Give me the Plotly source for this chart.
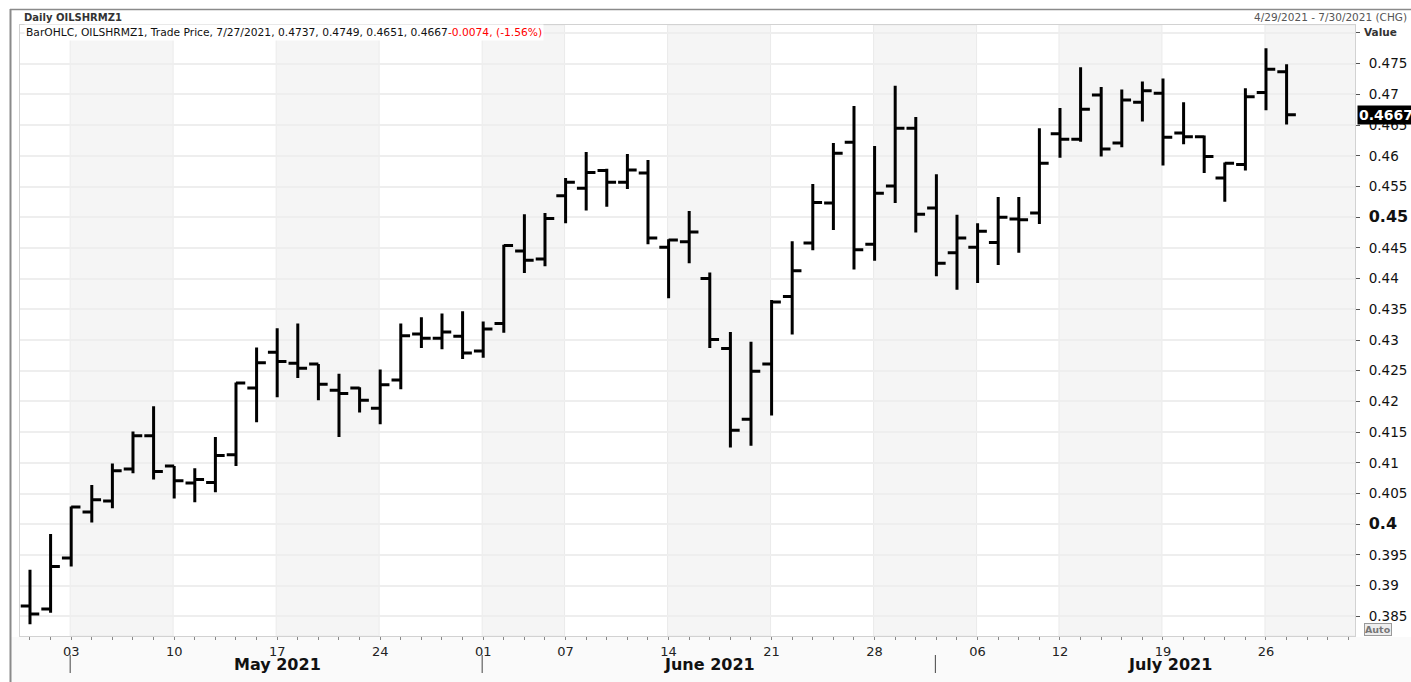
import datetime as dt
import plotly.graph_objects as go

# ---------------- data ----------------
dates = [
    "2021-04-29", "2021-04-30",
    "2021-05-03", "2021-05-04", "2021-05-05", "2021-05-06", "2021-05-07",
    "2021-05-10", "2021-05-11", "2021-05-12", "2021-05-13", "2021-05-14",
    "2021-05-17", "2021-05-18", "2021-05-19", "2021-05-20", "2021-05-21",
    "2021-05-24", "2021-05-25", "2021-05-26", "2021-05-27", "2021-05-28",
    "2021-06-01", "2021-06-02", "2021-06-03", "2021-06-04",
    "2021-06-07", "2021-06-08", "2021-06-09", "2021-06-10", "2021-06-11",
    "2021-06-14", "2021-06-15", "2021-06-16", "2021-06-17", "2021-06-18",
    "2021-06-21", "2021-06-22", "2021-06-23", "2021-06-24", "2021-06-25",
    "2021-06-28", "2021-06-29", "2021-06-30", "2021-07-01", "2021-07-02",
    "2021-07-06", "2021-07-07", "2021-07-08", "2021-07-09",
    "2021-07-12", "2021-07-13", "2021-07-14", "2021-07-15", "2021-07-16",
    "2021-07-19", "2021-07-20", "2021-07-21", "2021-07-22", "2021-07-23",
    "2021-07-26", "2021-07-27",
]
opens = [
    0.3867, 0.3862,
    0.3945, 0.4020, 0.4038, 0.4090, 0.4144,
    0.4095, 0.4067, 0.4068, 0.4113, 0.4222,
    0.4280, 0.4262, 0.4261, 0.4218, 0.4222,
    0.4189, 0.4235, 0.4310, 0.4303, 0.4306,
    0.4282, 0.4327, 0.4445, 0.4432,
    0.4535, 0.4547, 0.4576, 0.4557, 0.4572,
    0.4451, 0.4460, 0.4400, 0.4286, 0.4171,
    0.4261, 0.4371, 0.4458, 0.4523, 0.4622,
    0.4456, 0.4551, 0.4645, 0.4515, 0.4442,
    0.4451, 0.4459, 0.4497, 0.4507,
    0.4636, 0.4627, 0.4699, 0.4621, 0.4687,
    0.4702, 0.4637, 0.4631, 0.4564, 0.4586,
    0.4703, 0.4737,
]
highs = [
    0.3926, 0.3984,
    0.4029, 0.4064, 0.4099, 0.4151, 0.4192,
    0.4095, 0.4091, 0.4142, 0.4231, 0.4288,
    0.4319, 0.4327, 0.4261, 0.4245, 0.4223,
    0.4252, 0.4327, 0.4337, 0.4343, 0.4347,
    0.4330, 0.4455, 0.4505, 0.4507,
    0.4564, 0.4606, 0.4579, 0.4603, 0.4593,
    0.4464, 0.4510, 0.4410, 0.4313, 0.4297,
    0.4365, 0.4461, 0.4554, 0.4621, 0.4681,
    0.4616, 0.4714, 0.4663, 0.4570, 0.4504,
    0.4490, 0.4533, 0.4533, 0.4645,
    0.4678, 0.4744, 0.4712, 0.4708, 0.4721,
    0.4726, 0.4687, 0.4633, 0.4589, 0.4710,
    0.4775, 0.4749,
]
lows = [
    0.3837, 0.3856,
    0.3931, 0.4003, 0.4026, 0.4083, 0.4073,
    0.4042, 0.4036, 0.4052, 0.4095, 0.4166,
    0.4207, 0.4238, 0.4202, 0.4142, 0.4182,
    0.4163, 0.4220, 0.4287, 0.4285, 0.4269,
    0.4271, 0.4312, 0.4409, 0.4420,
    0.4490, 0.4511, 0.4517, 0.4546, 0.4456,
    0.4368, 0.4425, 0.4287, 0.4125, 0.4128,
    0.4177, 0.4309, 0.4446, 0.4479, 0.4415,
    0.4429, 0.4523, 0.4475, 0.4404, 0.4382,
    0.4393, 0.4422, 0.4442, 0.4489,
    0.4597, 0.4623, 0.4599, 0.4614, 0.4656,
    0.4584, 0.4619, 0.4572, 0.4525, 0.4576,
    0.4674, 0.4651,
]
closes = [
    0.3854, 0.3931,
    0.4028, 0.4040, 0.4087, 0.4144, 0.4086,
    0.4071, 0.4073, 0.4112, 0.4230, 0.4263,
    0.4265, 0.4254, 0.4228, 0.4213, 0.4202,
    0.4227, 0.4307, 0.4303, 0.4313, 0.4279,
    0.4318, 0.4454, 0.4430, 0.4498,
    0.4557, 0.4573, 0.4557, 0.4577, 0.4466,
    0.4463, 0.4476, 0.4301, 0.4153, 0.4249,
    0.4362, 0.4413, 0.4524, 0.4604, 0.4447,
    0.4539, 0.4645, 0.4505, 0.4425, 0.4466,
    0.4477, 0.4500, 0.4496, 0.4588,
    0.4627, 0.4676, 0.4611, 0.4691, 0.4706,
    0.4630, 0.4631, 0.4599, 0.4588, 0.4696,
    0.4741, 0.4667,
]
y_ticks = [0.385, 0.39, 0.395, 0.40, 0.405, 0.41, 0.415, 0.42, 0.425, 0.43,
           0.435, 0.44, 0.445, 0.45, 0.455, 0.46, 0.465, 0.47, 0.475, 0.48]
y_tick_labels = ["0.385", "0.39", "0.395", "0.4", "0.405", "0.41", "0.415", "0.42",
                 "0.425", "0.43", "0.435", "0.44", "0.445", "0.45", "0.455", "0.46",
                 "0.465", "0.47", "0.475", ""]
bold_labels = ["0.4", "0.45"]
month_names = ["May 2021", "June 2021", "July 2021"]
title_text = "Daily OILSHRMZ1"
range_text = "4/29/2021 - 7/30/2021 (CHG)"
legend_text = "BarOHLC, OILSHRMZ1, Trade Price, 7/27/2021, 0.4737, 0.4749, 0.4651, 0.4667"
change_text = "-0.0074, (-1.56%)"
last_value = 0.4667
n_future_days = 3  # 7/28 - 7/30 shown as empty space

# ---------------- layout geometry ----------------
W, H = 1411, 682
ML, MR, MT, MB = 20, 56, 25, 46
PW = W - ML - MR
PH = H - MT - MB
FONT = "DejaVu Sans"


def px_x(px):
    return (px - ML) / PW


def px_y(py):
    return 1 - (py - MT) / PH


d = [dt.date.fromisoformat(s) for s in dates]
idx = list(range(len(d)))
x_lo = -0.485
x_hi = x_lo + PW / 20.6

# week / month boundaries derived from the dates
week_starts = [i for i in idx if i == 0 or d[i].isocalendar()[1] != d[i - 1].isocalendar()[1]]
label_idx = [i for i in week_starts if i > 0]
month_starts = [i for i in idx if i > 0 and d[i].month != d[i - 1].month]

fig = go.Figure()
fig.add_trace(go.Ohlc(
    x=idx, open=opens, high=highs, low=lows, close=closes,
    increasing=dict(line=dict(color="black", width=3)),
    decreasing=dict(line=dict(color="black", width=3)),
    tickwidth=0.45, showlegend=False, hoverinfo="skip",
))

shapes = []
# alternating week shading (even ISO weeks)
for k, s in enumerate(week_starts):
    if d[s].isocalendar()[1] % 2 == 0:
        e = week_starts[k + 1] if k + 1 < len(week_starts) else x_hi + 1
        shapes.append(dict(type="rect", xref="x", yref="paper", x0=s - 0.05, x1=e - 0.05,
                           y0=0, y1=1, fillcolor="#f5f5f5",
                           line=dict(color="#ebebeb", width=1), layer="below"))
# bottom strip background
shapes.append(dict(type="rect", xref="paper", yref="paper", x0=px_x(11), x1=px_x(W),
                   y0=px_y(H), y1=px_y(MT + PH + 1), fillcolor="#fafafa",
                   line=dict(width=0), layer="below"))
# month separators
for m in month_starts:
    shapes.append(dict(type="line", xref="x", yref="paper", x0=m - 0.05, x1=m - 0.05,
                       y0=px_y(655), y1=px_y(673), line=dict(color="#444", width=1)))
# outer frame lines
shapes.append(dict(type="line", xref="paper", yref="paper", x0=px_x(10.5), x1=px_x(10.5),
                   y0=px_y(9), y1=px_y(H), line=dict(color="#8a8a8a", width=2)))
shapes.append(dict(type="line", xref="paper", yref="paper", x0=px_x(10), x1=px_x(W),
                   y0=px_y(9.5), y1=px_y(9.5), line=dict(color="#8a8a8a", width=1.5)))

annotations = []
# month labels
bounds = month_starts + [len(d) + n_future_days + 1.7]
for k, name in enumerate(month_names):
    mid = (bounds[k] + bounds[k + 1]) / 2
    annotations.append(dict(x=mid, y=px_y(664), xref="x", yref="paper", text=f"<b>{name}</b>",
                            showarrow=False, xanchor="center", yanchor="middle",
                            font=dict(family=FONT, size=16, color="#111")))
annotations += [
    dict(x=px_x(22), y=px_y(17), xref="paper", yref="paper", text=f"<b>{title_text}</b>",
         showarrow=False, xanchor="left", yanchor="middle",
         font=dict(family=FONT, size=10, color="#333")),
    dict(x=px_x(1409), y=px_y(17), xref="paper", yref="paper", text=range_text,
         showarrow=False, xanchor="right", yanchor="middle",
         font=dict(family=FONT, size=10.5, color="#555")),
    dict(x=px_x(1362), y=px_y(32), xref="paper", yref="paper", text="<b>Value</b>",
         showarrow=False, xanchor="left", yanchor="middle",
         font=dict(family=FONT, size=10.5, color="#333")),
    dict(x=px_x(24), y=px_y(33), xref="paper", yref="paper",
         text=f"{legend_text}<span style='color:#ff0000'>{change_text}</span>",
         showarrow=False, xanchor="left", yanchor="middle", bgcolor="white", borderpad=1,
         font=dict(family=FONT, size=10.7, color="#111")),
    dict(x=px_x(1357), y=last_value, xref="paper", yref="y", text=f"<b>{last_value}</b>",
         showarrow=False, xanchor="left", yanchor="middle", bgcolor="black", borderpad=1,
         font=dict(family=FONT, size=14, color="white")),
    dict(x=px_x(1364), y=px_y(629), xref="paper", yref="paper", text="<b>Auto</b>",
         showarrow=False, xanchor="left", yanchor="middle", bgcolor="#eeeeee",
         bordercolor="#9a9a9a", borderwidth=1, borderpad=0,
         font=dict(family=FONT, size=9.5, color="#777")),
]

ytext = [f"<span style='font-size:16px'><b>{t}</b></span>" if t in bold_labels else t
         for t in y_tick_labels]

fig.update_layout(
    width=W, height=H,
    margin=dict(l=ML, r=MR, t=MT, b=MB, pad=0, autoexpand=False),
    paper_bgcolor="white", plot_bgcolor="rgba(0,0,0,0)",
    font=dict(family=FONT, size=13, color="#222"),
    shapes=shapes, annotations=annotations,
    xaxis=dict(
        range=[x_lo, x_hi], tickmode="array", tickvals=label_idx,
        ticktext=[f"{d[i].day:02d}" for i in label_idx],
        ticks="outside", ticklen=3, tickcolor="#888", tickwidth=1,
        minor=dict(tickmode="linear", tick0=0, dtick=1, ticks="outside", ticklen=3,
                   tickcolor="#888", showgrid=False),
        showgrid=False, zeroline=False, showline=True, linecolor="#d2d2d2", linewidth=1,
        mirror=True, rangeslider=dict(visible=False), automargin=False,
        tickfont=dict(family=FONT, size=13, color="#222"),
    ),
    yaxis=dict(
        side="right", range=[0.3818, 0.4813], tickmode="array", tickvals=y_ticks,
        ticktext=ytext, ticks="outside", ticklen=4, tickcolor="#555", tickwidth=1,
        ticklabelstandoff=6, automargin=False,
        showgrid=True, gridcolor="#eeeeee", gridwidth=2, zeroline=False,
        showline=True, linecolor="#d2d2d2", linewidth=1, mirror=True,
        tickfont=dict(family=FONT, size=13.5, color="#111"),
    ),
)

fig.write_html("out.html", config={"displayModeBar": False},
               post_script="document.body.style.margin='0px';")
